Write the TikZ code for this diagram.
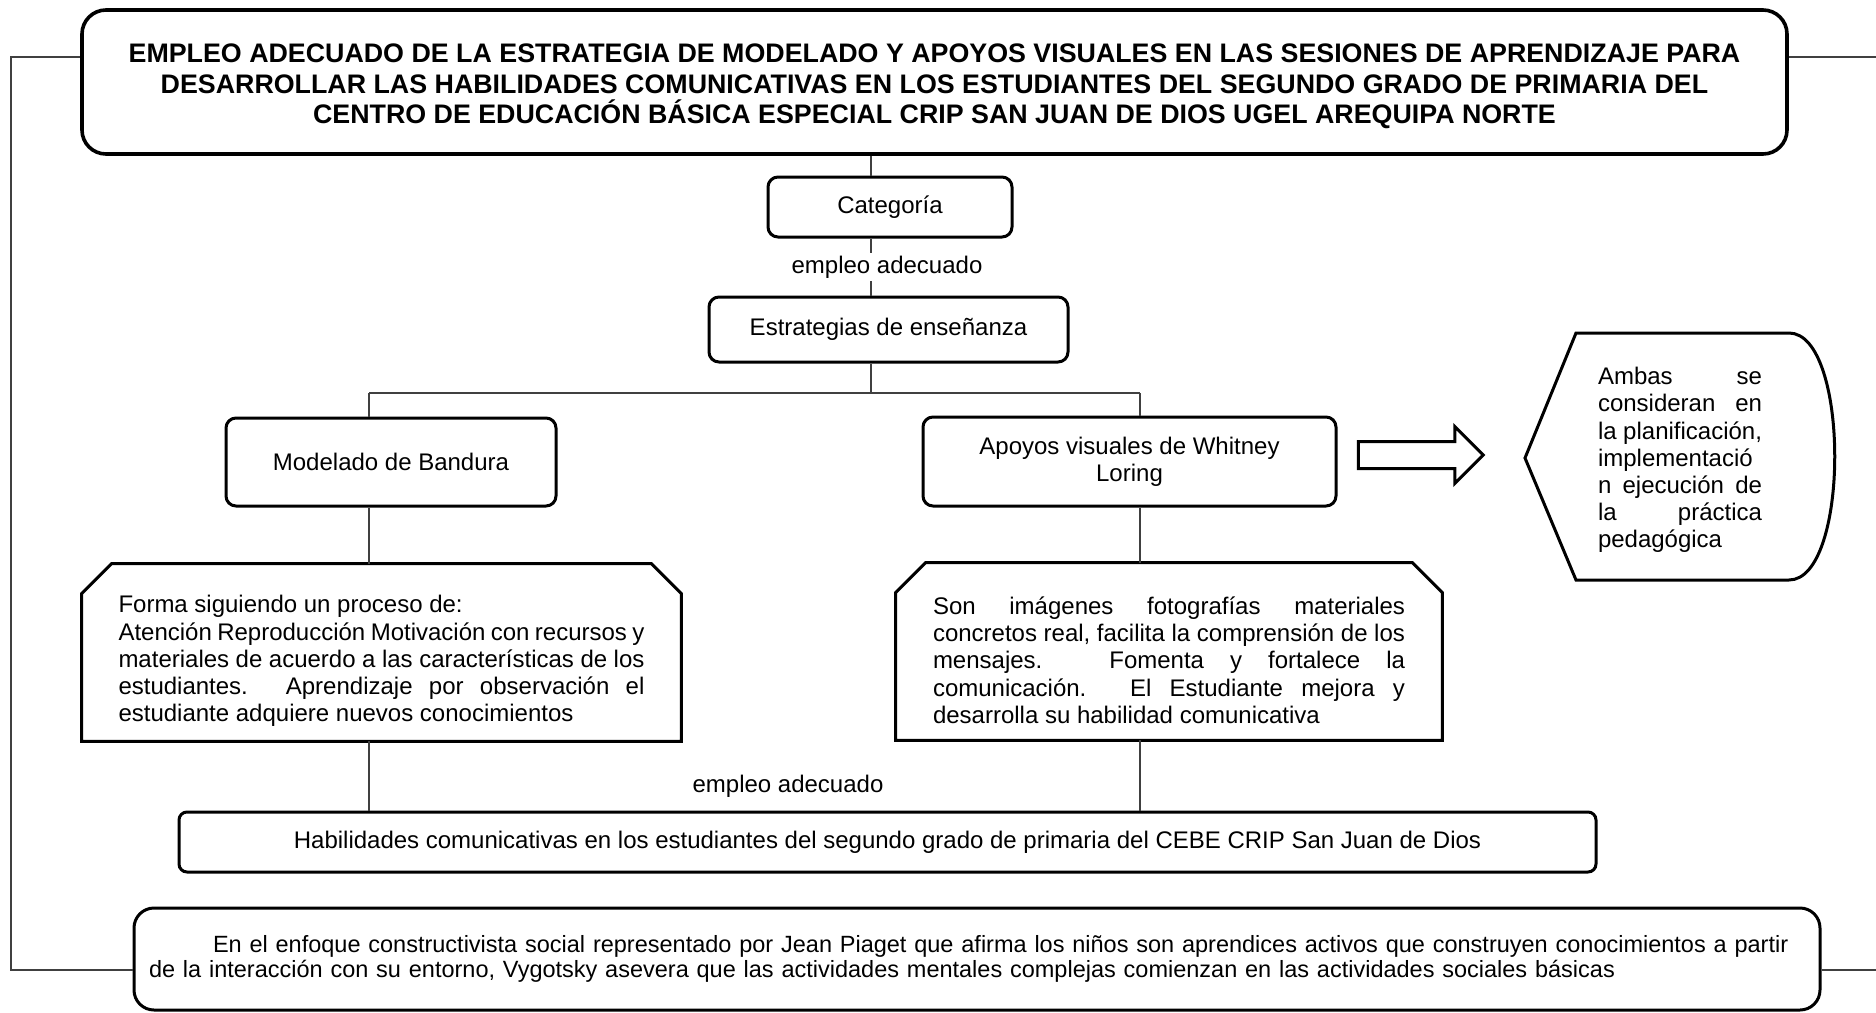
\documentclass[tikz,border=0pt]{standalone}
\usepackage{fontspec}
\setmainfont{Liberation Sans}
\usetikzlibrary{shapes.arrows}
\hyphenpenalty=10000
\tolerance=9999

\begin{document}
\begin{tikzpicture}[x=0.5pt,y=-0.5pt,
    texto/.style={font=\fontsize{12}{13.6}\selectfont},
    caja/.style={texto,draw,line width=1.5pt,rounded corners=5pt,align=center,inner sep=2pt},
    cajacorte/.style={texto,align=justify,inner sep=0pt},
    borde/.style={line width=1.5pt,line join=miter},
    linea/.style={black!75,line width=0.6pt},
    etiqueta/.style={texto,fill=white,inner sep=1.5pt}]
\useasboundingbox (0,0) rectangle (1876,1013);

                \node[caja,rounded corners=12pt,line width=1.8pt,minimum width=852.5pt,minimum height=72pt,
                    font=\fontsize{13.4}{15.25}\selectfont\bfseries] (titulo) at (934.5,82)
                    {\rule{0pt}{14pt}EMPLEO ADECUADO DE LA ESTRATEGIA DE MODELADO Y APOYOS VISUALES EN LAS SESIONES DE APRENDIZAJE PARA\\
                     DESARROLLAR LAS HABILIDADES COMUNICATIVAS EN LOS ESTUDIANTES DEL SEGUNDO GRADO DE PRIMARIA DEL\\
                     CENTRO DE EDUCACIÓN BÁSICA ESPECIAL CRIP SAN JUAN DE DIOS UGEL AREQUIPA NORTE};
                \node[caja,minimum width=122pt,minimum height=30pt] (cat) at (890,207) {Categoría};
                \node[caja,minimum width=179.5pt,minimum height=32.5pt] (estr) at (888.5,329.5) {Estrategias de enseñanza};
                \node[caja,minimum width=165pt,minimum height=44pt] (model) at (391,462) {Modelado de Bandura};
                \node[caja,minimum width=206.5pt,minimum height=44.5pt] (apoyos) at (1129.5,461.5) {Apoyos visuales de Whitney\\Loring};
                \node[cajacorte,minimum width=299.5pt,minimum height=88.5pt,text width=263pt] (forma) at (381.5,652.5)
                    {\rule{0pt}{17.25pt}Forma siguiendo un proceso de:\\
                     Atención Reproducción Motivación con recursos y\linebreak
                     materiales de acuerdo a las características de los\linebreak
                     estudiantes. Aprendizaje por observación el\linebreak
                     estudiante adquiere nuevos conocimientos};
                \node[cajacorte,minimum width=273pt,minimum height=88.5pt,text width=236pt] (son) at (1169,651.5)
                    {\rule{0pt}{17.5pt}Son imágenes fotografías materiales\linebreak
                     concretos real, facilita la comprensión de los\linebreak
                     mensajes. Fomenta y fortalece la\linebreak
                     comunicación. El Estudiante mejora y\linebreak
                     desarrolla su habilidad comunicativa};
                \node[caja,rounded corners=4pt,minimum width=708.5pt,minimum height=30pt] (hab) at (887.5,842)
                    {Habilidades comunicativas en los estudiantes del segundo grado de primaria del CEBE CRIP San Juan de Dios};
                \node[caja,rounded corners=10pt,minimum width=843pt,minimum height=51pt,align=left,text width=828pt,
                    font=\fontsize{11.75}{12.2}\selectfont] (enfoque) at (977,959)
                    {\hspace*{32pt}En el enfoque constructivista social representado por Jean Piaget que afirma los niños son aprendices activos que construyen conocimientos a partir\\
                     de la interacción con su entorno, Vygotsky asevera que las actividades mentales complejas comienzan en las actividades sociales básicas};
                \node[single arrow,draw,line width=1.5pt,minimum height=62.5pt,inner xsep=0pt,inner ysep=6pt,
                    single arrow head extend=7.5pt] (flecha) at (1414,455) {};
                \node[texto,align=justify,text width=82pt,inner sep=0pt] (ambas) at (1680,460)
                    {Ambas se\linebreak consideran en\linebreak la planificación,\linebreak implementació\linebreak
                     n ejecución de\linebreak la práctica\linebreak pedagógica};

                \draw[borde] ([yshift=-15pt]forma.north west) -- ([xshift=15pt]forma.north west)
                    -- ([xshift=-15pt]forma.north east) -- ([yshift=-15pt]forma.north east)
                    -- (forma.south east) -- (forma.south west) -- cycle;
                \draw[borde] ([yshift=-15pt]son.north west) -- ([xshift=15pt]son.north west)
                    -- ([xshift=-15pt]son.north east) -- ([yshift=-15pt]son.north east)
                    -- (son.south east) -- (son.south west) -- cycle;
                \draw[borde] (1525,458) -- (1576,333) -- (1789,333)
                    .. controls (1850,333) and (1850,580) .. (1789,580) -- (1576,580) -- cycle;

                \coordinate (eje) at (871,0);
                \coordinate (colL) at (369,393);
                \coordinate (colR) at (1140,393);
                \coordinate (fbL) at (11,57);
                \coordinate (fbL2) at (11,970);
                \coordinate (fbR) at (1890,57);
                \coordinate (fbR2) at (1890,970);

                \draw[linea] (titulo.south -| eje) to (cat.north -| eje);
                \draw[linea] (cat.south -| eje) to (estr.north -| eje);
                \draw[linea] (estr.south -| eje) to (colL -| eje);
                \draw[linea] (colL) to (colR);
                \draw[linea] (colL) to (model.north -| colL);
                \draw[linea] (model.south -| colL) to (forma.north -| colL);
                \draw[linea] (forma.south -| colL) to (hab.north -| colL);
                \draw[linea] (colR) to (apoyos.north -| colR);
                \draw[linea] (apoyos.south -| colR) to (son.north -| colR);
                \draw[linea] (son.south -| colR) to (hab.north -| colR);
                \draw[linea] (titulo.west |- fbL) -- (fbL) -- (fbL2) -- (enfoque.west |- fbL2);
                \draw[linea] (titulo.east |- fbR) -- (fbR) -- (fbR2) -- (enfoque.east |- fbR2);

                \node[etiqueta] (emp1) at (887,267) {empleo adecuado};
                \node[etiqueta] (emp2) at (788,786) {empleo adecuado};
            \end{tikzpicture}
\end{document}
